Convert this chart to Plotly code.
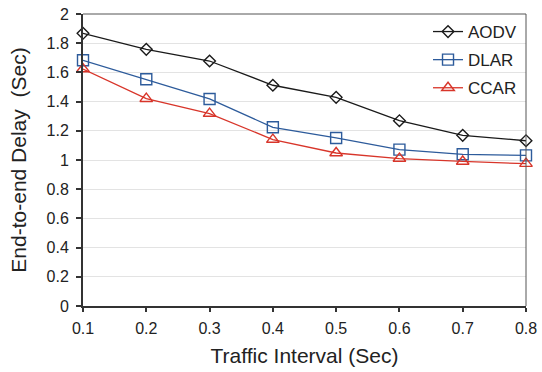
import plotly.graph_objects as go

x_vals = [0.1, 0.2, 0.3, 0.4, 0.5, 0.6, 0.7, 0.8]
aodv = [1.868, 1.758, 1.678, 1.512, 1.429, 1.269, 1.169, 1.132]
dlar = [1.683, 1.553, 1.418, 1.224, 1.151, 1.071, 1.039, 1.032]
ccar = [1.623, 1.42, 1.318, 1.14, 1.048, 1.01, 0.99, 0.975]
y_ticks = [0, 0.2, 0.4, 0.6, 0.8, 1, 1.2, 1.4, 1.6, 1.8, 2]
x_ticks = [0.1, 0.2, 0.3, 0.4, 0.5, 0.6, 0.7, 0.8]

fig = go.Figure()
series = [
    ("AODV", aodv, "#1a1a1a", "diamond-open", 9),
    ("DLAR", dlar, "#2d5b9b", "square-open", 11),
    ("CCAR", ccar, "#d8352a", "triangle-up-open", 11),
]
for name, ys, col, sym, sz in series:
    fig.add_trace(go.Scatter(
        x=x_vals, y=ys, name=name, mode="lines+markers", legendgroup=name,
        line=dict(color=col, width=1.3),
        marker=dict(symbol=sym, size=sz, color=col, line=dict(color=col, width=1.4)),
        cliponaxis=False,
    ))

fig.update_layout(
    width=542, height=372,
    margin=dict(l=83, r=16, t=14, b=66, autoexpand=False),
    paper_bgcolor="white", plot_bgcolor="white",
    font=dict(family="Liberation Sans, Arial, sans-serif", size=16, color="#222"),
    showlegend=True,
    legend=dict(x=0.991, y=1.0, xanchor="right", yanchor="top",
                bgcolor="rgba(0,0,0,0)", font=dict(size=17, color="#222"),
                itemwidth=30, tracegroupgap=3),
    xaxis=dict(
        range=[0.1, 0.8], tickvals=x_ticks, ticktext=[f"{v:g}" for v in x_ticks],
        showgrid=False, showline=True, linecolor="#333", linewidth=2,
        ticks="outside", ticklen=4, tickcolor="#333", tickwidth=1.5,
        ticklabelstandoff=3, automargin=False, ticklabeloverflow="allow",
        title=dict(text="Traffic Interval (Sec)", font=dict(size=21), standoff=12),
        zeroline=False,
    ),
    yaxis=dict(
        range=[0, 2], tickvals=y_ticks, ticktext=[f"{v:g}" for v in y_ticks],
        showgrid=True, gridcolor="#e3e3e3", gridwidth=1,
        showline=True, linecolor="#333", linewidth=2,
        ticks="outside", ticklen=5, tickcolor="#333", tickwidth=1.5,
        ticklabelstandoff=4, automargin=False, ticklabeloverflow="allow",
        title=dict(text="End-to-end Delay  (Sec)", font=dict(size=21), standoff=14),
        zeroline=False,
    ),
)
fig.add_shape(type="line", xref="paper", yref="paper", x0=0, x1=1, y0=1, y1=1,
              line=dict(color="#555", width=1))
fig.add_shape(type="line", xref="paper", yref="paper", x0=1, x1=1, y0=0, y1=1,
              line=dict(color="#555", width=1))

fig.write_html(
    "out.html",
    config={"displayModeBar": False},
    post_script="document.body.style.margin='0';document.body.style.overflow='hidden';",
)
